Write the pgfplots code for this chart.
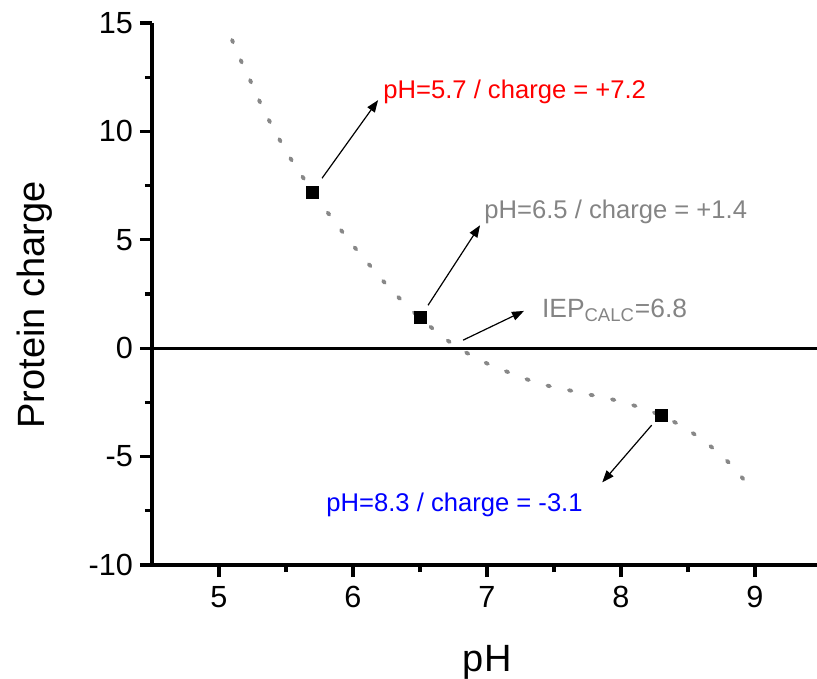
\documentclass[border=0pt]{standalone}
\usepackage{pgfplots}
\pgfplotsset{compat=1.18}
\usepackage{fontspec}
\setmainfont{Liberation Sans}
\usetikzlibrary{arrows.meta}

\definecolor{dotgray}{RGB}{136,136,136}
\definecolor{txtgray}{RGB}{132,132,132}

\begin{document}
\begin{tikzpicture}
  \begin{axis}[
    name=ax,
    x=67bp, y=10.84bp,
    xmin=4.5, xmax=9.463,
    ymin=-10, ymax=15,
    axis lines=left,
    axis line style={-, line width=1.6bp},
    tick style={line width=1.6bp, black},
    tick align=outside,
    major tick length=6bp,
    minor tick length=3.5bp,
    xtick={5,6,7,8,9},
    ytick={-10,-5,0,5,10,15},
    minor x tick num=1,
    minor y tick num=1,
    /pgf/number format/assume math mode=true,
    ticklabel style={font=\fontsize{15.3bp}{18bp}\selectfont},
    xticklabel style={yshift=-1bp},
    xlabel={pH},
    ylabel={Protein charge},
    label style={font=\fontsize{19bp}{22bp}\selectfont},
    xlabel style={at={(axis description cs:0.504,-0.197)}, anchor=base},
    ylabel style={at={(axis description cs:-0.161,0.48)}, anchor=base},
    clip=false,
  ]

    % zero line
    \addplot[black, line width=1.6bp] coordinates {(4.5,0) (9.463,0)};

    % calculated charge curve
    \addplot[dotgray, line width=1.9bp, line cap=round,
             dash pattern=on 1.3bp off 9.7bp, smooth] coordinates {
      (5.097,14.22) (5.169,13.19) (5.239,12.27) (5.306,11.35) (5.381,10.42)
      (5.463,9.50) (5.554,8.55) (5.655,7.62) (5.759,6.69) (5.871,5.77)
      (5.987,4.84) (6.112,3.92) (6.244,2.97) (6.388,2.04) (6.5,1.4)
      (6.692,0.42) (6.836,-0.17) (6.985,-0.66) (7.14,-1.06) (7.29,-1.42)
      (7.44,-1.71) (7.59,-1.91) (7.74,-2.11) (7.90,-2.31) (8.04,-2.54)
      (8.19,-2.83) (8.346,-3.24) (8.49,-3.73) (8.65,-4.43) (8.80,-5.25)
      (8.93,-6.16)
    };

    % measured points
    \addplot[only marks, mark=square*, mark size=3bp, black] coordinates {
      (5.7,7.2) (6.5,1.4) (8.3,-3.1)
    };

    % annotations
    \draw[-{Triangle[length=6bp,width=4.5bp]}, line width=0.6bp]
      (axis cs:5.769,7.84) -- (axis cs:6.187,11.44);
    \draw[-{Triangle[length=6bp,width=4.5bp]}, line width=0.6bp]
      (axis cs:6.560,1.98) -- (axis cs:6.948,5.67);
    \draw[-{Triangle[length=6bp,width=4.5bp]}, line width=0.6bp]
      (axis cs:6.821,0.37) -- (axis cs:7.276,1.72);
    \draw[-{Triangle[length=6bp,width=4.5bp]}, line width=0.6bp]
      (axis cs:8.229,-3.55) -- (axis cs:7.860,-6.19);

    \node[anchor=west, inner sep=0pt, text=red, font=\fontsize{12.8bp}{15bp}\selectfont]
      at (axis cs:6.224,11.81) {pH=5.7 / charge = +7.2};
    \node[anchor=west, inner sep=0pt, text=txtgray, font=\fontsize{12.8bp}{15bp}\selectfont]
      at (axis cs:6.978,6.27) {pH=6.5 / charge = +1.4};
    \node[anchor=west, inner sep=0pt, text=txtgray, font=\fontsize{13.2bp}{15bp}\selectfont]
      at (axis cs:7.408,1.75) {IEP\textsubscript{CALC}=6.8};
    \node[anchor=west, inner sep=0pt, text=blue, font=\fontsize{12.8bp}{15bp}\selectfont]
      at (axis cs:5.799,-7.24) {pH=8.3 / charge = -3.1};

  \end{axis}
  \pgfresetboundingbox
  \useasboundingbox ([xshift=-76bp,yshift=-57bp]ax.south west)
    rectangle ([xshift=332.5bp,yshift=282.5bp]ax.south west);
\end{tikzpicture}
\end{document}
